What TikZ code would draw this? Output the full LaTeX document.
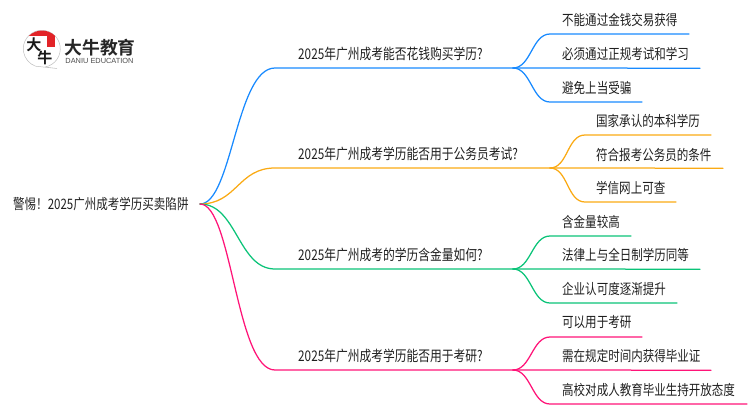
\documentclass[tikz,border=0pt]{standalone}
\usepackage{fontspec}
\newfontfamily\cjk[FakeStretch=0.8]{Noto Sans CJK SC}
\newfontfamily\cjkb[FakeStretch=1.0]{Noto Sans CJK SC Bold}
\newfontfamily\lat{Liberation Sans}
\tikzset{
 lab/.style={inner sep=0pt,anchor=west,text=black!88,font=\cjk\fontsize{14.4}{15}\selectfont},
 mlab/.style={lab,font=\cjk\fontsize{14.7}{15}\selectfont},
 conn/.style={line width=1.25pt,line cap=round},
 blueb/.style={conn,draw={rgb,255:red,24;green,138;blue,255}},
 orb/.style={conn,draw={rgb,255:red,250;green,170;blue,20}},
 grb/.style={conn,draw={rgb,255:red,10;green,195;blue,120}},
 pkb/.style={conn,draw={rgb,255:red,255;green,20;blue,120}},
}
\definecolor{logored}{RGB}{226,36,40}
\begin{document}
\begin{tikzpicture}[x=1pt,y=-1pt]
\useasboundingbox (0,0) rectangle (750,410);
% logo
\fill[white] (42,49) circle (18.5);
\draw[black!25,line width=.5pt] (45,67) arc (80:-250:18.5) -- (57,68.5) -- cycle;
\begin{scope}
\clip (42,49) circle (18.5);
\fill[logored] (24,30) rectangle (60,35.5);
\end{scope}
\fill[logored] (46.5,36) rectangle (55,47);
\node[inner sep=0pt,text=black!90] (logoA) at (34,45) {\cjkb\fontsize{15}{15}\selectfont 大};
\node[inner sep=0pt,text=black!90] (logoB) at (45,58) {\cjkb\fontsize{15}{15}\selectfont 牛};
\node[inner sep=0pt,text=black!85] (logoT) at (100,48) {\cjkb\fontsize{17.8}{18}\selectfont 大牛教育};
\node[inner sep=0pt,text=black!70] (logoE) at (99.5,60.5) {\lat\fontsize{7.4}{7}\selectfont DANIU EDUCATION};
% labels
\node[lab] (root) at (13,204) {警惕！2025广州成考学历买卖陷阱};
\coordinate (r) at (200,204);
\node[mlab] (m1) at (298,54) {2025年广州成考能否花钱购买学历?};
\node[mlab] (m2) at (298,154) {2025年广州成考学历能否用于公务员考试?};
\node[mlab] (m3) at (298,255) {2025年广州成考的学历含金量如何?};
\node[mlab] (m4) at (298,356) {2025年广州成考学历能否用于考研?};
\node[lab] (a1) at (562,20) {不能通过金钱交易获得};
\node[lab] (a2) at (562,54) {必须通过正规考试和学习};
\node[lab] (a3) at (562,88) {避免上当受骗};
\node[lab] (b1) at (596,121) {国家承认的本科学历};
\node[lab] (b2) at (596,155) {符合报考公务员的条件};
\node[lab] (b3) at (596,188) {学信网上可查};
\node[lab] (c1) at (562,222) {含金量较高};
\node[lab] (c2) at (562,255) {法律上与全日制学历同等};
\node[lab] (c3) at (562,289) {企业认可度逐渐提升};
\node[lab] (d1) at (562,322) {可以用于考研};
\node[lab] (d2) at (562,356) {需在规定时间内获得毕业证};
\node[lab] (d3) at (562,390) {高校对成人教育毕业生持开放态度};
% coordinates
\coordinate (m1s) at (275,68); \coordinate (m1h) at (513,68);
\coordinate (m2s) at (275,168); \coordinate (m2h) at (550,168);
\coordinate (m3s) at (275,269); \coordinate (m3h) at (513,269);
\coordinate (m4s) at (275,370); \coordinate (m4h) at (513,370);
\coordinate (a1s) at (550,34); \coordinate (a1e) at (689,34);
\coordinate (a2e) at (700,68.2);
\coordinate (a3s) at (550,102); \coordinate (a3e) at (642,102);
\coordinate (b1s) at (585,135); \coordinate (b1e) at (711,135);
\coordinate (b2e) at (723,168.2);
\coordinate (b3s) at (585,202); \coordinate (b3e) at (676,202);
\coordinate (c1s) at (550,236); \coordinate (c1e) at (631,236);
\coordinate (c2e) at (700,269.2);
\coordinate (c3s) at (550,303); \coordinate (c3e) at (677,303);
\coordinate (d1s) at (550,337); \coordinate (d1e) at (642,337);
\coordinate (d2e) at (711,370.2);
\coordinate (d3s) at (550,404); \coordinate (d3e) at (747,404);
% connectors
\draw[blueb] (r) .. controls +(32,0) and (236,68) .. (m1s) -- (m1h);
\draw[blueb] (m1h) .. controls +(18,0) and (532,34) .. (a1s) -- (a1e);
\draw[blueb] (m1h) -- (a2e);
\draw[blueb] (m1h) .. controls +(18,0) and (532,102) .. (a3s) -- (a3e);
\draw[orb] (r) .. controls +(37,0) and (238,168) .. (m2s) -- (m2h);
\draw[orb] (m2h) .. controls +(18,0) and (567,135) .. (b1s) -- (b1e);
\draw[orb] (m2h) -- (b2e);
\draw[orb] (m2h) .. controls +(18,0) and (567,202) .. (b3s) -- (b3e);
\draw[grb] (r) .. controls +(37,0) and (238,269) .. (m3s) -- (m3h);
\draw[grb] (m3h) .. controls +(18,0) and (532,236) .. (c1s) -- (c1e);
\draw[grb] (m3h) -- (c2e);
\draw[grb] (m3h) .. controls +(18,0) and (532,303) .. (c3s) -- (c3e);
\draw[pkb] (r) .. controls +(32,0) and (236,370) .. (m4s) -- (m4h);
\draw[pkb] (m4h) .. controls +(18,0) and (532,337) .. (d1s) -- (d1e);
\draw[pkb] (m4h) -- (d2e);
\draw[pkb] (m4h) .. controls +(18,0) and (532,404) .. (d3s) -- (d3e);
\end{tikzpicture}
\end{document}
